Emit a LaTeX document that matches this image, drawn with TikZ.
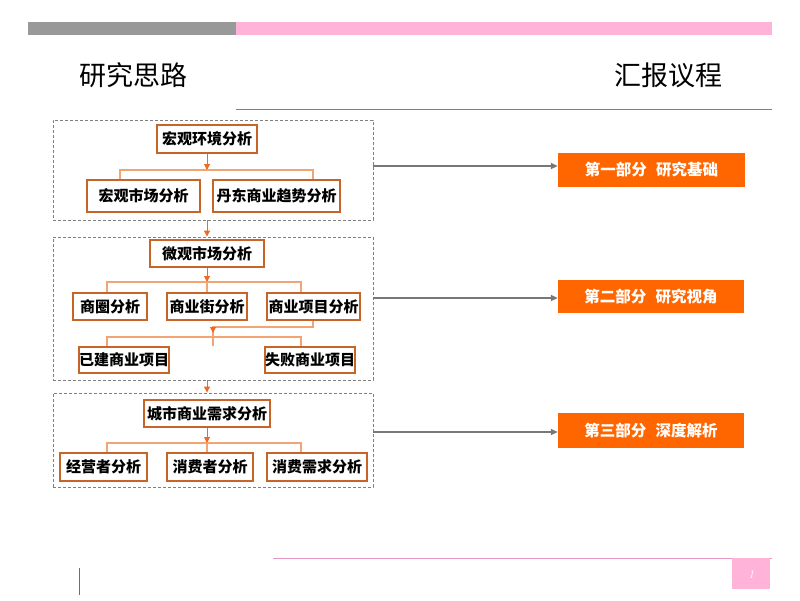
\documentclass[tikz,border=0pt]{standalone}
\usepackage{fontspec}
\newfontfamily\cjk{Noto Sans CJK SC}
\usetikzlibrary{arrows.meta}
\definecolor{boxline}{RGB}{200,100,40}
\definecolor{branchline}{RGB}{242,165,115}
\definecolor{tipcolor}{RGB}{240,105,30}
\definecolor{partorange}{RGB}{255,102,0}
\definecolor{barpink}{RGB}{255,179,217}
\definecolor{linepink}{RGB}{232,150,195}
\definecolor{bargray}{RGB}{153,153,153}
\definecolor{linkgray}{RGB}{120,120,120}

\begin{document}
\begin{tikzpicture}[x=1pt,y=-1pt,
  cellbox/.style={draw=boxline, line width=1.2pt, fill=white, inner sep=0pt,
    font=\cjk\bfseries\fontsize{15}{15}\selectfont},
  groupbox/.style={draw=gray, dashed, dash pattern=on 3pt off 2pt, line width=0.8pt,
    inner sep=0pt},
  partbox/.style={fill=partorange, text=white, inner sep=0pt,
    font=\cjk\bfseries\fontsize{15.5}{15.5}\selectfont},
  branch/.style={draw=branchline, line width=1.2pt},
  tip/.style={draw=tipcolor, line width=1pt, -{Triangle[length=6pt,width=6pt]}},
  linkarrow/.style={draw=linkgray, line width=1.8pt, -{Triangle[length=7pt,width=6pt]}}]
  \useasboundingbox (0,0) rectangle (800,600);

  % draw header bars and titles
  \fill[bargray] (28,22) rectangle (236,35);
  \fill[barpink] (236,22) rectangle (772,35);
  \draw[gray, line width=1pt] (236,109) -- (772,109);
  \node[font=\cjk\fontsize{27}{27}\selectfont] (lefttitle) at (133,75) {研究思路};
  \node[font=\cjk\fontsize{27}{27}\selectfont] (righttitle) at (668,75) {汇报议程};

  % draw dashed group frames
  \node[groupbox, minimum width=320, minimum height=100] (g1) at (213,170) {};
  \node[groupbox, minimum width=320, minimum height=143] (g2) at (213,308.5) {};
  \node[groupbox, minimum width=320, minimum height=94] (g3) at (213,440) {};

  % first group
  \node[cellbox, minimum width=100, minimum height=28] (env) at (207,139) {宏观环境分析};
  \node[cellbox, minimum width=113, minimum height=32] (mkt) at (143.5,196) {宏观市场分析};
  \node[cellbox, minimum width=127, minimum height=32] (dd) at (276.5,196) {丹东商业趋势分析};
  \coordinate (j1) at (207,170);
  \coordinate (j1l) at (120,170);
  \coordinate (j1r) at (313,170);
  \draw[branch] (j1l |- mkt.north) -- (j1l) -- (j1r) -- (j1r |- dd.north);
  \draw[tip] (env.south) -- (j1);

  % second group
  \node[cellbox, minimum width=114, minimum height=27] (micro) at (207,253.5) {微观市场分析};
  \node[cellbox, minimum width=74, minimum height=27] (ring) at (110,306.5) {商圈分析};
  \node[cellbox, minimum width=80, minimum height=27] (street) at (207,306.5) {商业街分析};
  \node[cellbox, minimum width=93, minimum height=27] (proj) at (313.5,306.5) {商业项目分析};
  \node[cellbox, minimum width=86, minimum height=26] (built) at (124,360) {已建商业项目};
  \node[cellbox, minimum width=86, minimum height=26] (fail) at (310,360) {失败商业项目};
  \coordinate (j2) at (207,282);
  \coordinate (j2l) at (107,282);
  \coordinate (j2r) at (301,282);
  \draw[branch] (j2l |- ring.north) -- (j2l) -- (j2r) -- (j2r |- proj.north);
  \draw[branch] (j2) -- (street.north);
  \draw[tip] (micro.south) -- (j2);
  \coordinate (k1) at (213,327);
  \coordinate (j3l) at (107,337);
  \coordinate (j3r) at (301,337);
  \draw[branch] (proj.south -| j2r) ++(12,0) |- (k1) -- (k1 |- built.north);
  \draw[branch] (j3l |- built.north) -- (j3l) -- (j3r) -- (j3r |- fail.north);
  \draw[tip] (k1) -- ++(0,6);

  % third group
  \node[cellbox, minimum width=126, minimum height=27] (city) at (207,413.5) {城市商业需求分析};
  \node[cellbox, minimum width=87, minimum height=28] (oper) at (103.5,467) {经营者分析};
  \node[cellbox, minimum width=86, minimum height=28] (cons) at (210,467) {消费者分析};
  \node[cellbox, minimum width=100, minimum height=28] (need) at (317,467) {消费需求分析};
  \coordinate (j4) at (207,443);
  \coordinate (j4l) at (107,443);
  \coordinate (j4r) at (301,443);
  \draw[branch] (j4l |- oper.north) -- (j4l) -- (j4r) -- (j4r |- need.north);
  \draw[branch] (j4) -- (j4 |- cons.north);
  \draw[tip] (city.south) -- (j4);

  % arrows between groups
  \draw[tip] (g1.south -| env) -- (g2.north -| env);
  \draw[tip] (g2.south -| env) -- (g3.north -| env);

  % agenda parts
  \node[partbox, minimum width=187, minimum height=34] (p1) at (651.5,170) {第一部分\hspace{0.6em}研究基础};
  \node[partbox, minimum width=186, minimum height=33] (p2) at (651,296.5) {第二部分\hspace{0.6em}研究视角};
  \node[partbox, minimum width=186, minimum height=35] (p3) at (651,430.5) {第三部分\hspace{0.6em}深度解析};
  \coordinate (a1) at (373,166);
  \coordinate (a2) at (373,298);
  \coordinate (a3) at (373,432);
  \draw[linkarrow] (a1) -- (a1 -| p1.west);
  \draw[linkarrow] (a2) -- (a2 -| p2.west);
  \draw[linkarrow] (a3) -- (a3 -| p3.west);

  % footer
  \draw[linepink, line width=1pt] (273,558) -- (772,558);
  \fill[barpink] (732,558) rectangle (770,589);
  \node[text=white, font=\itshape\fontsize{12}{12}\selectfont] (pagenum) at (751,574) {1};
  \draw[brown!80!black, line width=1pt] (79,568) -- (79,595);
\end{tikzpicture}
\end{document}
